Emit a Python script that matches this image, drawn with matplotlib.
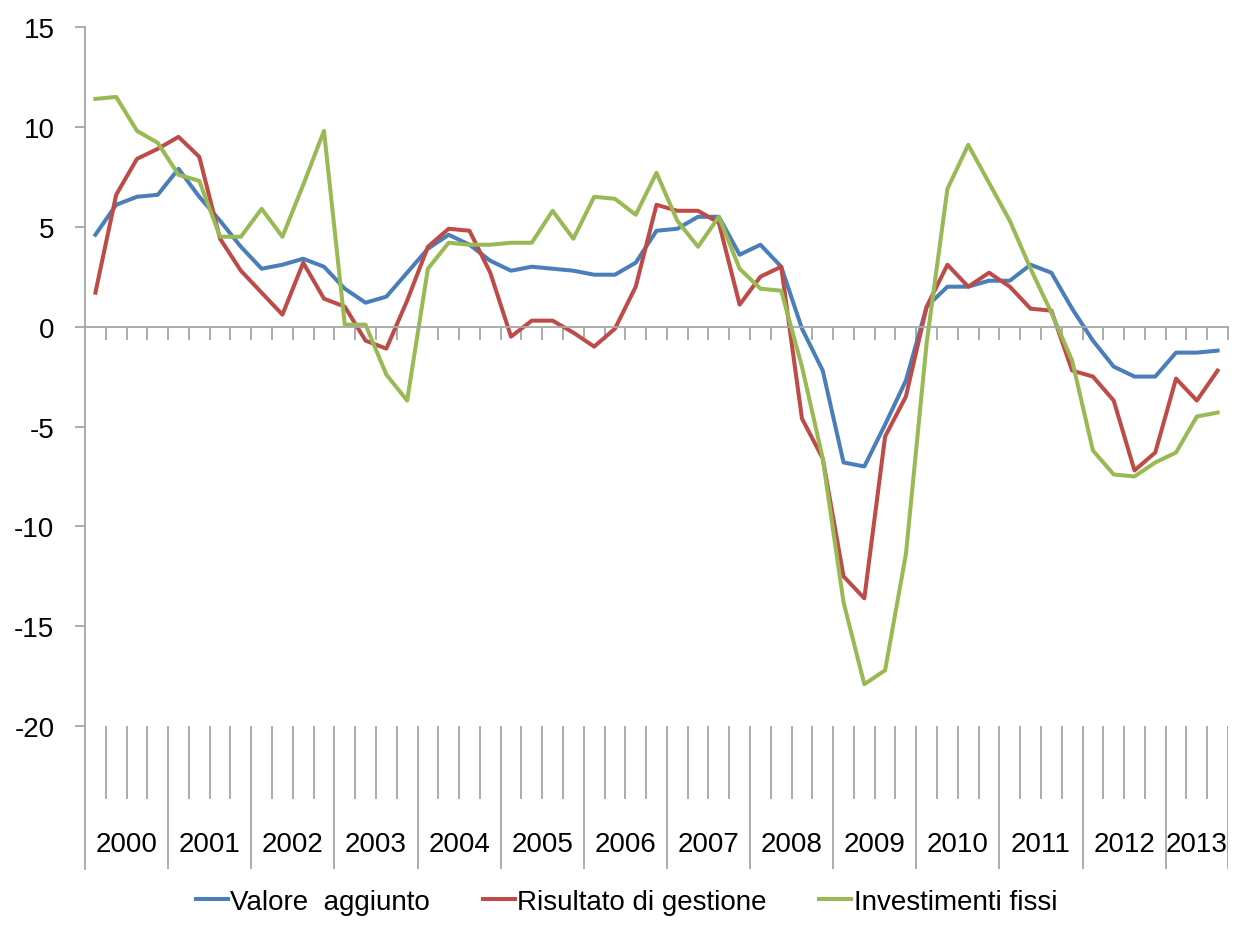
import numpy as np
import matplotlib
matplotlib.use('Agg')
import matplotlib.pyplot as plt
from matplotlib import font_manager

# ------------------- Data (quarterly, 2000 Q1 - 2013 Q3) ------------------- #
years = [str(y) for y in range(2000, 2014)]
quarters_per_year = [4] * 13 + [3]

valore_aggiunto = [
    4.6, 6.1, 6.5, 6.6, 7.9, 6.5, 5.3, 4.0,
    2.9, 3.1, 3.4, 3.0, 1.9, 1.2, 1.5, 2.7,
    3.9, 4.6, 4.1, 3.3, 2.8, 3.0, 2.9, 2.8,
    2.6, 2.6, 3.2, 4.8, 4.9, 5.5, 5.5, 3.6,
    4.1, 3.0, -0.1, -2.2, -6.8, -7.0, -4.9, -2.7,
    1.0, 2.0, 2.0, 2.3, 2.3, 3.1, 2.7, 0.9,
    -0.7, -2.0, -2.5, -2.5, -1.3, -1.3, -1.2,
]
risultato_gestione = [
    1.7, 6.6, 8.4, 8.9, 9.5, 8.5, 4.4, 2.8,
    1.7, 0.6, 3.2, 1.4, 1.0, -0.7, -1.1, 1.3,
    4.0, 4.9, 4.8, 2.7, -0.5, 0.3, 0.3, -0.3,
    -1.0, -0.1, 2.0, 6.1, 5.8, 5.8, 5.2, 1.1,
    2.5, 3.0, -4.6, -6.6, -12.5, -13.6, -5.5, -3.5,
    1.0, 3.1, 2.0, 2.7, 2.0, 0.9, 0.8, -2.2,
    -2.5, -3.7, -7.2, -6.3, -2.6, -3.7, -2.2,
]
investimenti_fissi = [
    11.4, 11.5, 9.8, 9.2, 7.6, 7.3, 4.5, 4.5,
    5.9, 4.5, 7.1, 9.8, 0.1, 0.1, -2.4, -3.7,
    2.9, 4.2, 4.1, 4.1, 4.2, 4.2, 5.8, 4.4,
    6.5, 6.4, 5.6, 7.7, 5.3, 4.0, 5.5, 2.9,
    1.9, 1.8, -2.0, -6.6, -13.8, -17.9, -17.2, -11.4,
    -0.8, 6.9, 9.1, 7.2, 5.3, 2.9, 0.7, -1.7,
    -6.2, -7.4, -7.5, -6.8, -6.3, -4.5, -4.3,
]

# ------------------- Style ------------------- #
available = {f.name for f in font_manager.fontManager.ttflist}
if 'Liberation Sans Narrow' in available:
    font_name, fsize = 'Liberation Sans Narrow', 23
else:
    font_name, fsize = 'Liberation Sans', 20
plt.rcParams['font.family'] = [font_name, 'DejaVu Sans']
plt.rcParams['axes.unicode_minus'] = False  # plain hyphen like the original

axis_grey = '#a6a6a6'
colors = ['#4a7ebb', '#be4b48', '#98b954']
lw = 2.9

# ------------------- Figure ------------------- #
fig = plt.figure(figsize=(12.36, 9.28), dpi=100)
# axes spans the plot area plus the category label band below it
ax = fig.add_axes([85 / 1236, 1 - 870 / 928, (1228 - 85) / 1236, (870 - 28) / 928])

n = len(valore_aggiunto)
x = np.arange(n)

ax.plot(x, valore_aggiunto, color=colors[0], lw=lw, label='Valore  aggiunto')
ax.plot(x, risultato_gestione, color=colors[1], lw=lw, label='Risultato di gestione')
ax.plot(x, investimenti_fissi, color=colors[2], lw=lw, label='Investimenti fissi')

y_bottom = -20 - 143 / 20.0   # bottom of the label band
ax.set_xlim(-0.5, n - 0.5)
ax.set_ylim(y_bottom, 15)

# spines: left full height, bottom crossing at 0
for s in ['top', 'right']:
    ax.spines[s].set_visible(False)
ax.spines['left'].set_color(axis_grey)
ax.spines['left'].set_linewidth(1.3)
ax.spines['bottom'].set_position(('data', 0))
ax.spines['bottom'].set_color(axis_grey)
ax.spines['bottom'].set_linewidth(1.3)

# y ticks
ax.set_yticks(np.arange(-20, 16, 5))
ax.tick_params(axis='y', direction='out', length=7, width=1.3, color=axis_grey,
               labelsize=fsize, pad=15)

# x ticks at category boundaries on the zero line
boundaries = np.arange(0.5, n, 1.0)
ax.set_xticks(boundaries)
ax.set_xticklabels([])
ax.tick_params(axis='x', direction='out', length=9.5, width=1.3, color=axis_grey)

# category band: quarter separators and year separators
edges = np.concatenate([[0], np.cumsum(quarters_per_year)]) - 0.5
year_edges = edges[1:]
quarter_lines = [b for b in boundaries if not np.any(np.isclose(b, edges))]
ax.vlines(quarter_lines, -20 - 73 / 20.0, -20, color=axis_grey, lw=1.3)
ax.vlines(year_edges, y_bottom, -20, color=axis_grey, lw=1.3)

# year labels
centers = (edges[:-1] + edges[1:]) / 2
for c, yr in zip(centers, years):
    ax.text(c, -20 - 118 / 20.0, yr, ha='center', va='center', fontsize=fsize)

# legend
fig.legend(loc='lower center', ncol=3, frameon=False, fontsize=fsize,
           bbox_to_anchor=(0.507, -0.014), handlelength=1.15, handletextpad=0.08,
           columnspacing=1.9)

fig.savefig('out.png', dpi=100)
